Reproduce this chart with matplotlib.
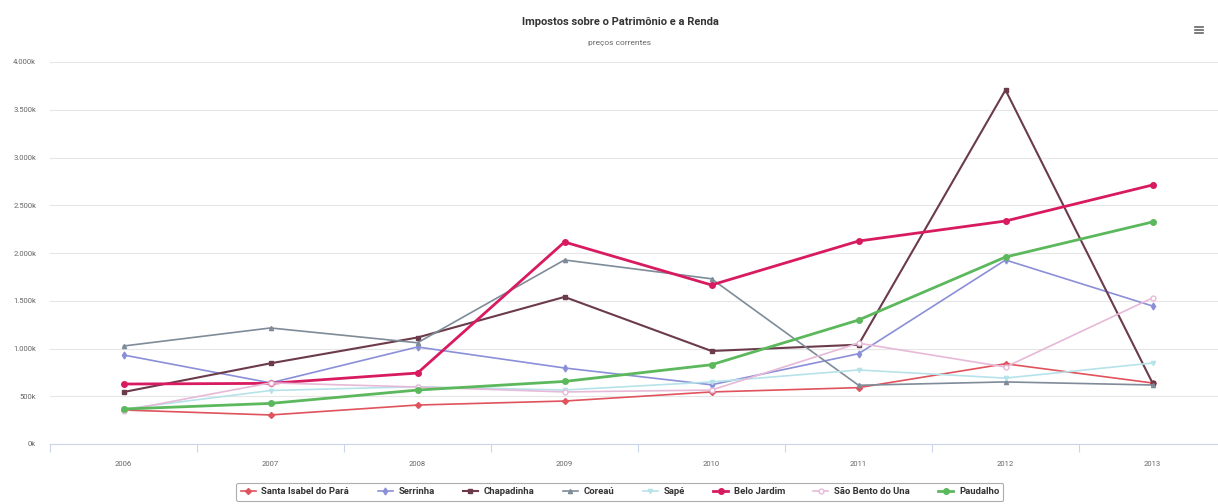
import matplotlib.pyplot as plt
from matplotlib.ticker import FixedLocator, FuncFormatter
from matplotlib.lines import Line2D
import numpy as np

plt.rcParams["font.family"] = ["Roboto", "DejaVu Sans"]

years = ["2006", "2007", "2008", "2009", "2010", "2011", "2012", "2013"]

# values in thousands of R$
santa_isabel = [356, 304, 408, 450, 545, 590, 840, 639]
serrinha = [932, 640, 1016, 796, 620, 945, 1927, 1445]
chapadinha = [544, 845, 1115, 1540, 974, 1040, 3707, 639]
coreau = [1026, 1215, 1060, 1927, 1730, 615, 650, 618]
sape = [366, 560, 600, 565, 650, 775, 690, 848]
belo_jardim = [628, 635, 743, 2115, 1665, 2125, 2335, 2712]
sao_bento = [350, 640, 597, 545, 565, 1056, 806, 1529]
paudalho = [366, 425, 565, 655, 830, 1298, 1958, 2325]

series = [
    ("Santa Isabel do Pará", santa_isabel, "#e0535c", "D", 1.2, 3.0),
    ("Serrinha", serrinha, "#8a8fd8", "d", 1.2, 3.5),
    ("Chapadinha", chapadinha, "#6b3a4b", "s", 1.5, 3.5),
    ("Coreaú", coreau, "#7e8b98", "^", 1.2, 3.0),
    ("Sapé", sape, "#b6e2ea", "v", 1.2, 3.0),
    ("Belo Jardim", belo_jardim, "#d81b60", "o", 2.0, 4.0),
    ("São Bento do Una", sao_bento, "#e7b9d8", "o", 1.2, 3.5),
    ("Paudalho", paudalho, "#5cb85c", "o", 2.0, 4.0),
]

fig = plt.figure(figsize=(12.18, 5.04), dpi=100)
ax = fig.add_axes([50 / 1218, 1 - 444 / 504, 1176 / 1218, 382 / 504])

x = np.arange(len(years))
for name, vals, color, marker, lw, ms in series:
    face = "white" if name == "São Bento do Una" else color
    ax.plot(x, vals, color=color, lw=lw, marker=marker, ms=ms,
            markerfacecolor=face, markeredgecolor=color, label=name, zorder=3)

ax.set_xlim(-0.5, len(years) - 0.5)
ax.set_ylim(0, 4000)
ax.yaxis.set_major_locator(FixedLocator(np.arange(0, 4001, 500)))
ax.yaxis.set_major_formatter(
    FuncFormatter(lambda v, _: f"{v:,.0f}".replace(",", ".") + "k"))
ax.grid(axis="y", color="#e6e6e6", lw=0.8)
ax.set_axisbelow(True)

ax.set_xticks(x)
ax.set_xticklabels(years)
ax.xaxis.set_minor_locator(FixedLocator(np.arange(-0.5, len(years), 1.0)))
ax.tick_params(axis="x", which="major", length=0, pad=12, labelsize=5.5,
               labelcolor="#666666")
ax.tick_params(axis="x", which="minor", length=6, color="#ccd6eb", width=0.8)
ax.tick_params(axis="y", length=0, pad=10, labelsize=5.5, labelcolor="#666666")

for side in ("top", "right", "left"):
    ax.spines[side].set_visible(False)
ax.spines["bottom"].set_color("#ccd6eb")
ax.spines["bottom"].set_linewidth(0.8)

fig.text(0.509, 1 - 22 / 504, "Impostos sobre o Patrimônio e a Renda",
         ha="center", va="center", fontsize=8, fontweight="bold", color="#333333")
fig.text(0.509, 1 - 43 / 504, "preços correntes", ha="center", va="center",
         fontsize=6, color="#666666")

# menu icon
for dy in (-3, 0, 3):
    fig.add_artist(Line2D([1195 / 1218, 1203 / 1218],
                          [1 - (30 + dy) / 504] * 2, color="#666666", lw=1.2))

handles, labels = ax.get_legend_handles_labels()
leg = fig.legend(handles, labels, loc="center", bbox_to_anchor=(0.509, 1 - 492 / 504),
                 ncol=8, fontsize=6.8, frameon=True, handlelength=1.6,
                 columnspacing=3.0, handletextpad=0.6, borderpad=0.45,
                 fancybox=True)
leg.get_frame().set_edgecolor("#999999")
leg.get_frame().set_linewidth(0.8)
for t in leg.get_texts():
    t.set_fontweight("bold")
    t.set_color("#333333")

fig.savefig("out.png", dpi=100)
